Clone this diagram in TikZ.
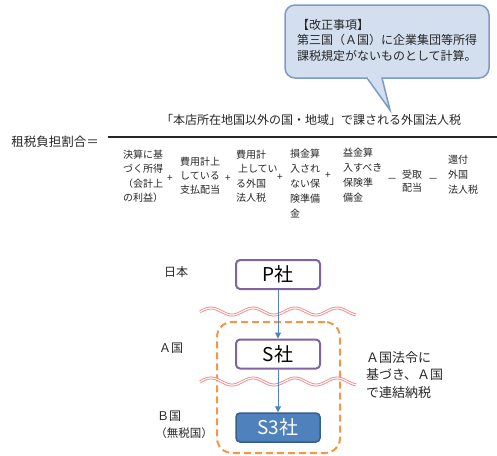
\documentclass[tikz,border=0pt]{standalone}
\usepackage{fontspec}
\setmainfont{Noto Sans CJK JP}
\usetikzlibrary{arrows.meta}
\definecolor{textc}{HTML}{262626}
\definecolor{purp}{HTML}{8064A2}
\definecolor{mblue}{HTML}{4F81BD}
\definecolor{dblue}{HTML}{385D8A}
\definecolor{orng}{HTML}{F79646}
\definecolor{wavec}{HTML}{F47A7A}
\definecolor{cfill}{HTML}{D3DEEE}
\definecolor{cborder}{HTML}{7E9BC8}
\begin{document}
\begin{tikzpicture}[x=1pt,y=-1pt,
  txt/.style={inner sep=0pt, outer sep=0pt, text=textc},
  den/.style={txt, font=\fontsize{10}{14.5}\selectfont, align=left, anchor=north west},
  op/.style={txt, font=\fontsize{10}{12}\selectfont},
  lbl/.style={txt, font=\fontsize{12}{14}\selectfont},
  firm/.style={draw=purp, line width=2pt, fill=white, rounded corners=4pt, minimum width=84pt, minimum height=29pt, inner sep=0pt, font=\fontsize{19}{20}\selectfont, text=black},
  firmdark/.style={firm, draw=dblue, fill=mblue, text=white, line width=1.5pt},
  arr/.style={draw=mblue, line width=1pt, -{Triangle[length=6pt,width=6pt]}},
  wave/.style={draw=wavec, line width=0.8pt, double=white, double distance=1.2pt},
  callout/.style={fill=cfill, draw=cborder, line width=1.5pt},
  group/.style={draw=orng, line width=2pt, dash pattern=on 7pt off 4pt, rounded corners=15pt, minimum width=123pt, minimum height=131pt, inner sep=0pt}
]
\useasboundingbox (0,0) rectangle (497,455);

% callout
\draw[callout, rounded corners=10pt] (285,5) rectangle (489,78);
\filldraw[callout] (367,78) -- (390,110) -- (382,78);
\fill[cfill] (368.3,76.5) -- (381.3,76.5) -- (381.3,78.9) -- (368.3,78.9) -- cycle;
\node[txt, font=\fontsize{12}{15.5}\selectfont, align=left, anchor=north west] (ctext) at (297,19)
  {【改正事項】\\第三国（Ａ国）に企業集団等所得\\課税規定がないものとして計算。};

% fraction
\node[txt, font=\fontsize{12}{14}\selectfont] (num) at (311,120) {「本店所在地国以外の国・地域」で課される外国法人税};
\draw[line width=1.2pt, draw=textc] (108,137) -- (497,137);
\node[txt, font=\fontsize{12.5}{14}\selectfont] (lhs) at (55,142) {租税負担割合＝};

\node[den] (d1) at (123,150) {決算に基\\づく所得\\（会計上\\の利益）};
\node[op] (o1) at (170,178) {+};
\node[den, align=center, anchor=north, font=\fontsize{10}{14}\selectfont] (d2) at (200,157) {費用計上\\している\\支払配当};
\node[op] (o2) at (228,178) {+};
\node[den] (d3) at (236,150) {費用計\\\hspace{2pt}上してい\\る外国\\法人税};
\node[op] (o3) at (280,177) {+};
\node[den, font=\fontsize{10}{15}\selectfont] (d4) at (290,149) {損金算\\入され\\ない保\\険準備\\金};
\node[op] (o4) at (328,175) {+};
\node[den, font=\fontsize{10}{15}\selectfont] (d5) at (343,148) {益金算\\入すべき\\保険準\\備金};
\node[op] (o5) at (392,180) {－};
\node[den, font=\fontsize{10}{13}\selectfont] (d6) at (402,170) {受取\\配当};
\node[op] (o6) at (433,180) {－};
\node[den, font=\fontsize{10}{15}\selectfont] (d7) at (448,155) {還付\\外国\\法人税};

% lower diagram
\node[group] (grp) at (278.5,387.5) {};
\draw[wave] plot[domain=200:356, samples=120, smooth] (\x, {311.5 - 3.5*cos(8.5714*(\x-253))});
\draw[wave] plot[domain=200:356, samples=120, smooth] (\x, {381.5 - 3.5*cos(8.5714*(\x-253))});

\node[firm] (P) at (278,274.5) {P社};
\node[firm] (S) at (278,354) {S社};
\node[firmdark] (S3) at (278,427.5) {S3社};
\draw[arr] (P) -- (S);
\draw[arr] (S) -- (S3);

\node[lbl] (jp) at (176,272) {日本};
\node[lbl] (ka) at (171,348) {Ａ国};
\node[lbl, anchor=west] (kb) at (157,416) {Ｂ国};
\node[txt, font=\fontsize{11.5}{14}\selectfont] (kbn) at (184,433) {（無税国）};
\node[txt, font=\fontsize{13}{17.5}\selectfont, align=left, anchor=north west] (note) at (366,351.5)
  {Ａ国法令に\\基づき、Ａ国\\で連結納税};
\end{tikzpicture}
\end{document}
